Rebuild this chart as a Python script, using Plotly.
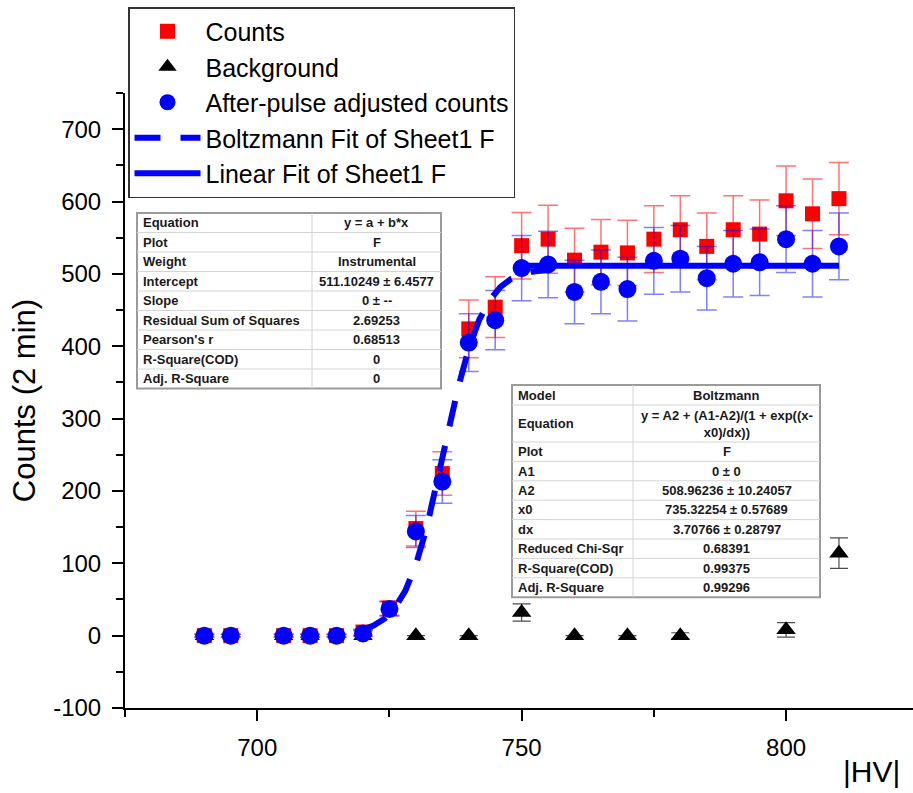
import plotly.graph_objects as go

# ---------------- data ----------------
hv = [690, 695, 705, 710, 715, 720, 725, 730, 735, 740, 745, 750,
      755, 760, 765, 770, 775, 780, 785, 790, 795, 800, 805, 810]
counts = [0, 0, 0, 0, 0, 5, 38, 148, 224, 424, 454, 539,
          548, 519, 530, 529, 548, 561, 538, 561, 555, 601, 583, 604]
counts_err = [2, 2, 2, 2, 2, 4, 10, 24, 30, 40, 42, 46,
              47, 44, 45, 45, 46, 47, 46, 47, 47, 48, 48, 50]
adjusted = [0, 0, 0, 0, 0, 3, 37, 144, 213, 405, 436, 508,
            513, 475, 489, 479, 518, 521, 494, 514, 516, 548, 514, 538]
adjusted_err = [2, 2, 2, 2, 2, 4, 10, 22, 30, 40, 41, 45,
                46, 44, 44, 44, 46, 46, 44, 46, 46, 46, 46, 46]

bg_hv = [690, 705, 710, 720, 730, 740, 750, 760, 770, 780, 800, 810]
bg = [0, 0, 0, 0, 0, 0, 32, 0, 0, 0, 8, 114]
bg_err = [0, 0, 0, 0, 0, 0, 12, 0, 0, 4, 10, 21]

# Boltzmann fit curve
boltz_hv = [720, 722, 724, 726, 728, 730, 732, 734, 736, 738, 740,
            742, 744, 746, 748, 750, 752, 755]
boltz_y = [8, 14, 23, 38, 62, 98, 148, 210, 278, 343, 397,
           437, 464, 482, 493, 499, 503, 506]

# Linear fit line
lin_hv = [750, 810]
lin_y = [511.1, 511.1]

# tick labels
x_ticks = [700, 750, 800]
y_ticks = [-100, 0, 100, 200, 300, 400, 500, 600, 700]
y_ticklabels = ["-100", "0", "100", "200", "300", "400", "500", "600", "700"]

lin_table_keys = ["Equation", "Plot", "Weight", "Intercept", "Slope",
                  "Residual Sum of Squares", "Pearson's r", "R-Square(COD)",
                  "Adj. R-Square"]
lin_table_vals = ["y = a + b*x", "F", "Instrumental", "511.10249 ± 6.4577", "0 ± --",
                  "2.69253", "0.68513", "0", "0"]
boltz_table_keys = ["Model", "Equation", "Plot", "A1", "A2", "x0", "dx",
                    "Reduced Chi-Sqr", "R-Square(COD)", "Adj. R-Square"]
boltz_table_vals = ["Boltzmann", "y = A2 + (A1-A2)/(1 + exp((x-<br>x0)/dx))", "F",
                    "0 ± 0", "508.96236 ± 10.24057", "735.32254 ± 0.57689",
                    "3.70766 ± 0.28797", "0.68391", "0.99375", "0.99296"]

# ---------------- layout geometry ----------------
W, H = 913, 793
ML, MR, MT, MB = 125, 0, 93, 85
PW, PH = W - ML - MR, H - MT - MB


def px(x):
    return (x - ML) / PW


def py(y):
    return (H - MB - y) / PH


BLUE = "#0000ff"
RED = "#ff0000"
FONT = "Liberation Sans, Arial, sans-serif"

fig = go.Figure()

fig.add_trace(go.Scatter(
    x=hv, y=counts, mode="markers", name="Counts",
    marker=dict(symbol="square", size=15, color=RED),
    error_y=dict(type="data", array=counts_err, color="rgba(255,0,0,0.55)",
                 thickness=1.5, width=10),
))
fig.add_trace(go.Scatter(
    x=bg_hv, y=bg, mode="markers", name="Background",
    marker=dict(symbol="triangle-up", size=17, color="black"),
    error_y=dict(type="data", array=bg_err, color="rgba(0,0,0,0.7)",
                 thickness=1.2, width=9),
))
fig.add_trace(go.Scatter(
    x=hv, y=adjusted, mode="markers", name="After-pulse adjusted counts",
    marker=dict(symbol="circle", size=18, color=BLUE),
    error_y=dict(type="data", array=adjusted_err, color="rgba(0,0,255,0.5)",
                 thickness=1.5, width=10),
))
fig.add_trace(go.Scatter(
    x=boltz_hv, y=boltz_y, mode="lines", name="Boltzmann Fit of Sheet1 F",
    line=dict(color=BLUE, width=6, dash="26px,20px"),
))
fig.add_trace(go.Scatter(
    x=lin_hv, y=lin_y, mode="lines", name="Linear Fit of Sheet1 F",
    line=dict(color=BLUE, width=6),
))

# ---------------- result tables (shapes + text) ----------------
shapes = []
annotations = []
cell_font = dict(family=FONT, size=13, color="#1a1a1a")


def add_table(x0, x1, xsplit, y0, row_heights, keys, vals):
    ytot = y0 + sum(row_heights)
    shapes.append(dict(type="rect", xref="paper", yref="paper", layer="above",
                       x0=px(x0), x1=px(x1), y0=py(ytot), y1=py(y0),
                       fillcolor="white", line=dict(color="#9a9a9a", width=2)))
    shapes.append(dict(type="line", xref="paper", yref="paper", layer="above",
                       x0=px(xsplit), x1=px(xsplit), y0=py(ytot), y1=py(y0),
                       line=dict(color="#d4d4d4", width=1)))
    y = y0
    for i, (k, v) in enumerate(zip(keys, vals)):
        h = row_heights[i]
        if i > 0:
            shapes.append(dict(type="line", xref="paper", yref="paper", layer="above",
                               x0=px(x0), x1=px(x1), y0=py(y), y1=py(y),
                               line=dict(color="#d4d4d4", width=1)))
        yc = py(y + h / 2)
        annotations.append(dict(text="<b>%s</b>" % k, xref="paper", yref="paper",
                                x=px(x0 + 4), y=yc, xanchor="left", yanchor="middle",
                                showarrow=False, font=cell_font))
        annotations.append(dict(text="<b>%s</b>" % v, xref="paper", yref="paper",
                                x=px((xsplit + x1) / 2), y=yc, xanchor="center",
                                yanchor="middle", showarrow=False, font=cell_font,
                                align="center"))
        y += h


add_table(137, 441, 312, 213, [19.5] * 9, lin_table_keys, lin_table_vals)
add_table(512, 820, 633, 385, [20, 37] + [19.4] * 8, boltz_table_keys, boltz_table_vals)

annotations.append(dict(text="|HV|", xref="paper", yref="paper", x=px(871), y=py(771),
                        xanchor="center", yanchor="middle", showarrow=False,
                        font=dict(size=30, family=FONT, color="black")))

fig.update_layout(
    width=W, height=H,
    margin=dict(l=ML, r=MR, t=MT, b=MB),
    paper_bgcolor="white", plot_bgcolor="white",
    font=dict(family=FONT, color="black"),
    showlegend=True,
    legend=dict(x=px(128), y=py(7), xanchor="left", yanchor="top",
                bgcolor="white", bordercolor="#333333", borderwidth=1.5,
                font=dict(family=FONT, size=25, color="black"),
                itemwidth=66, tracegroupgap=0),
    xaxis=dict(range=[675, 824], showgrid=False, zeroline=False,
               showline=True, linecolor="black", linewidth=2,
               ticks="outside", ticklen=11, tickwidth=2, tickcolor="black",
               tickvals=x_ticks, ticklabelstandoff=6,
               minor=dict(tickvals=[675, 725, 775, 825], ticks="outside",
                          ticklen=7, tickwidth=2, tickcolor="black"),
               tickfont=dict(size=24, family=FONT)),
    yaxis=dict(range=[-100, 750], showgrid=False, zeroline=False,
               showline=True, linecolor="black", linewidth=2,
               ticks="outside", ticklen=11, tickwidth=2, tickcolor="black",
               tickvals=y_ticks, ticktext=y_ticklabels,
               ticklabelstandoff=6,
               minor=dict(tickvals=[-50, 50, 150, 250, 350, 450, 550, 650, 750],
                          ticks="outside", ticklen=7, tickwidth=2, tickcolor="black"),
               tickfont=dict(size=24, family=FONT),
               title=dict(text="Counts (2 min)", font=dict(size=31, family=FONT),
                          standoff=8)),
    shapes=shapes,
    annotations=annotations,
)

fig.write_html("out.html")
